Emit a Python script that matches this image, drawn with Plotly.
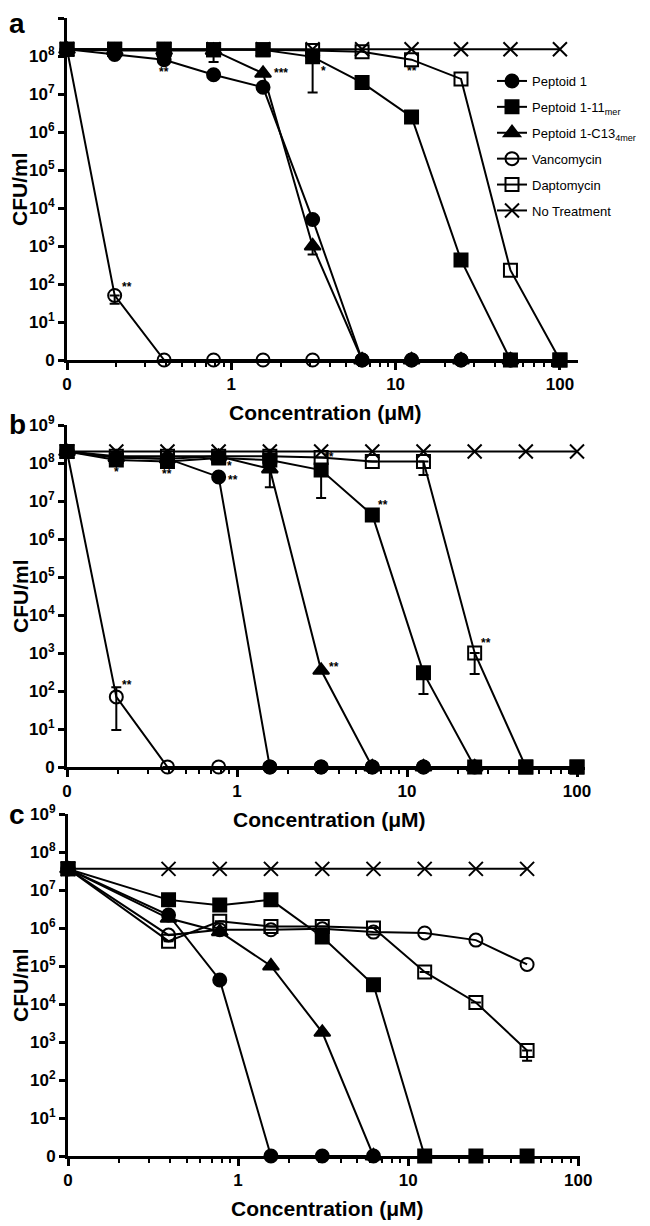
import math
import plotly.graph_objects as go

# ---------------- data (CFU/ml; 0 = no growth, None = not plotted) ----------------
conc_ab = [0, 0.195, 0.39, 0.78, 1.56, 3.125, 6.25, 12.5, 25, 50, 100]
conc_c = [0, 0.39, 0.78, 1.56, 3.125, 6.25, 12.5, 25, 50]

series_names = ["Peptoid 1", "Peptoid 1-11<sub>mer</sub>", "Peptoid 1-C13<sub>4mer</sub>",
                "Vancomycin", "Daptomycin", "No Treatment"]

# panel a
a_peptoid1 = [1.5e8, 1.1e8, 8e7, 3.2e7, 1.5e7, 5e3, 0, 0, 0, 0, None]
a_mer11 = [1.5e8, 1.5e8, 1.5e8, 1.45e8, 1.45e8, 9.5e7, 2e7, 2.5e6, 4.3e2, 0, 0]
a_c13 = [1.5e8, 1.4e8, 1.4e8, 1.4e8, 3.5e7, 1e3, 0, 0, 0, 0, None]
a_vanco = [1.5e8, 50, 0, 0, 0, 0, 0, 0, 0, 0, None]
a_dapto = [1.5e8, 1.5e8, 1.5e8, 1.45e8, 1.45e8, 1.4e8, 1.3e8, 8e7, 2.5e7, 2.3e2, 0]
a_none = [1.5e8] * 11

# panel b
b_peptoid1 = [2e8, 1.4e8, 1.3e8, 4.3e7, 0, 0, 0, 0, 0, None, None]
b_mer11 = [2e8, 1.2e8, 1.1e8, 1.35e8, 1.2e8, 6.5e7, 4.3e6, 3e2, 0, 0, 0]
b_c13 = [2e8, 1.4e8, 1.3e8, 1.5e8, 7e7, 3.5e2, 0, 0, 0, None, None]
b_vanco = [2e8, 70, 0, 0, 0, 0, 0, 0, None, None, None]
b_dapto = [2e8, 1.5e8, 1.5e8, 1.5e8, 1.5e8, 1.4e8, 1.1e8, 1.1e8, 1e3, 0, 0]
b_none = [2e8] * 11

# panel c
c_peptoid1 = [3.6e7, 2.2e6, 4.3e4, 0, 0, 0, None, None, None]
c_mer11 = [3.6e7, 5.5e6, 4e6, 5.5e6, 5.8e5, 3.2e4, 0, 0, 0]
c_c13 = [3.6e7, 1.8e6, 8e5, 1e5, 1.8e3, 0, None, None, None]
c_vanco = [3.6e7, 6.5e5, 9e5, 9e5, 9.5e5, 7.8e5, 7.4e5, 4.8e5, 1.1e5]
c_dapto = [3.6e7, 4.5e5, 1.5e6, 1.1e6, 1.1e6, 1e6, 7e4, 1.1e4, 6e2]
c_none = [3.6e7] * 9

# error bars: (series index, concentration, lower bound, upper bound)
a_errors = [(1, 0.78, 7e7, None), (1, 3.125, 1.1e7, None), (2, 3.125, 6e2, None), (3, 0.195, 30, None)]
b_errors = [(2, 1.56, 2.3e7, None), (1, 3.125, 1.2e7, None), (1, 12.5, 83, None),
            (4, 12.5, 4.8e7, None), (4, 25, 2.8e2, None), (3, 0.195, 9.4, 126)]
c_errors = [(4, 50, 3.2e2, None)]

# significance marks: (series index, concentration, text, xshift px, yshift px)
a_stars = [(0, 0.39, "**", 0, -12), (2, 1.56, "***", 18, 0), (1, 3.125, "*", 11, -14),
           (4, 12.5, "**", 0, -11), (3, 0.195, "**", 12, 8)]
b_stars = [(1, 0.195, "*", 0, -12), (1, 0.39, "**", 0, -13), (1, 0.78, "*", 11, -8),
           (0, 0.78, "**", 14, -3), (1, 3.125, "**", 8, 13), (1, 6.25, "**", 11, 10),
           (2, 3.125, "**", 13, 3), (3, 0.195, "**", 11, 12), (4, 25, "**", 11, 10)]
c_stars = []

y_tick_labels = ["0"] + ["10<sup>%d</sup>" % k for k in range(1, 10)]
x_tick_labels = ["0", "1", "10", "100"]

# ---------------- styling ----------------
PAGE_W, PAGE_H = 650, 1226
BODY = 8                      # default page margin of the html body
W, H = PAGE_W - BODY, PAGE_H - BODY
FONT = "Liberation Sans, Arial, sans-serif"
symbols = ["circle", "square", "triangle-up", "circle-open", "square-open", "x-thin-open"]
sizes = [13, 13, 14, 13, 13, 14]


def px(x):
    return (x - BODY) / W


def py(y):
    return 1 - (y - BODY) / H


# pixel boxes of panels (page coords): x0, x1, ytop, ybottom, log x-range
boxes = [(67, 578, 18, 360, [-1, 2.11]),
         (67, 585, 425, 767, [-1, 2.047]),
         (68, 580, 814, 1156, [-1, 2.01])]
letter_y = [24, 425, 814]

panels = [
    (conc_ab, [a_peptoid1, a_mer11, a_c13, a_vanco, a_dapto, a_none], a_errors, a_stars),
    (conc_ab, [b_peptoid1, b_mer11, b_c13, b_vanco, b_dapto, b_none], b_errors, b_stars),
    (conc_c, [c_peptoid1, c_mer11, c_c13, c_vanco, c_dapto, c_none], c_errors, c_stars),
]


def xd(v):
    return 0.1 if v == 0 else v


def yd(v):
    if v is None:
        return None
    return 1.0 if v == 0 else v


fig = go.Figure()
annotations = []

for p, (conc, series, errors, stars) in enumerate(panels):
    xs = "x" if p == 0 else "x%d" % (p + 1)
    ys = "y" if p == 0 else "y%d" % (p + 1)
    for s, vals in enumerate(series):
        x = [xd(c) for c in conc]
        y = [yd(v) for v in vals]
        minus = [0] * len(y)
        plus = [0] * len(y)
        has_err = False
        for (si, cc, lo, hi) in errors:
            if si == s:
                i = conc.index(cc)
                if lo is not None:
                    minus[i] = y[i] - lo
                if hi is not None:
                    plus[i] = hi - y[i]
                has_err = True
        err = dict(type="data", symmetric=False, array=plus, arrayminus=minus,
                   color="black", thickness=2, width=5, visible=True) if has_err else None
        fig.add_trace(go.Scatter(
            x=x, y=y, xaxis=xs, yaxis=ys, mode="lines+markers",
            name=series_names[s], showlegend=(p == 0), legendgroup=series_names[s],
            line=dict(color="black", width=2),
            marker=dict(symbol=symbols[s], size=sizes[s], color="black",
                        line=dict(color="black", width=2)),
            error_y=err, cliponaxis=False, connectgaps=False,
        ))
    for (si, cc, txt, dx, dy) in stars:
        i = conc.index(cc)
        annotations.append(dict(
            x=math.log10(xd(cc)), y=math.log10(yd(series[si][i])), xref=xs, yref=ys,
            text=txt, showarrow=False, xshift=dx, yshift=dy,
            font=dict(family=FONT, size=12, color="black", weight="bold")))

minor_vals = [m * 10 ** e for e in (-1, 0, 1) for m in range(2, 10)]

for p, (x0, x1, yt, yb, xr) in enumerate(boxes):
    xa = "xaxis" if p == 0 else "xaxis%d" % (p + 1)
    ya = "yaxis" if p == 0 else "yaxis%d" % (p + 1)
    ys = "y" if p == 0 else "y%d" % (p + 1)
    xs = "x" if p == 0 else "x%d" % (p + 1)
    fig.update_layout({
        xa: dict(type="log", domain=[px(x0), px(x1)], range=xr, anchor=ys, automargin=False,
                 showline=True, linewidth=3, linecolor="black", showgrid=False, zeroline=False,
                 ticks="outside", ticklen=7, tickwidth=2.5, tickcolor="black",
                 tickmode="array", tickvals=[0.1, 1, 10, 100], ticktext=x_tick_labels,
                 tickfont=dict(family=FONT, size=17, color="black", weight="bold"),
                 minor=dict(tickmode="array", tickvals=minor_vals, ticks="outside",
                            ticklen=4, tickwidth=2, tickcolor="black", showgrid=False)),
        ya: dict(type="log", domain=[py(yb), py(yt)], range=[0, 9], anchor=xs, automargin=False,
                 showline=True, linewidth=3, linecolor="black", showgrid=False, zeroline=False,
                 ticks="outside", ticklen=6, tickwidth=2.5, tickcolor="black",
                 tickmode="array", tickvals=[10 ** k for k in range(10)], ticktext=y_tick_labels,
                 tickfont=dict(family=FONT, size=17, color="black", weight="bold")),
    })
    # axis titles and panel letters
    annotations.append(dict(x=px((x0 + x1) / 2 + 3), y=py(yb + 52), xref="paper", yref="paper",
                            text="Concentration (μM)", showarrow=False,
                            xanchor="center", yanchor="middle",
                            font=dict(family=FONT, size=21, color="black", weight="bold")))
    annotations.append(dict(x=px(20), y=py((yt + yb) / 2), xref="paper", yref="paper",
                            text="CFU/ml", showarrow=False, textangle=-90,
                            xanchor="center", yanchor="middle",
                            font=dict(family=FONT, size=21, color="black", weight="bold")))
    annotations.append(dict(x=px(17), y=py(letter_y[p]), xref="paper", yref="paper",
                            text="abc"[p], showarrow=False, borderpad=0,
                            xanchor="center", yanchor="middle",
                            font=dict(family=FONT, size=28, color="black", weight="bold")))

fig.update_layout(
    width=W, height=H, margin=dict(l=0, r=0, t=0, b=0, autoexpand=False),
    plot_bgcolor="white", paper_bgcolor="white",
    annotations=annotations,
    legend=dict(x=px(492), y=py(66), xanchor="left", yanchor="top",
                bgcolor="rgba(0,0,0,0)", font=dict(family=FONT, size=13, color="black"),
                itemwidth=30, tracegroupgap=6),
)

fig.write_html("out.html")
